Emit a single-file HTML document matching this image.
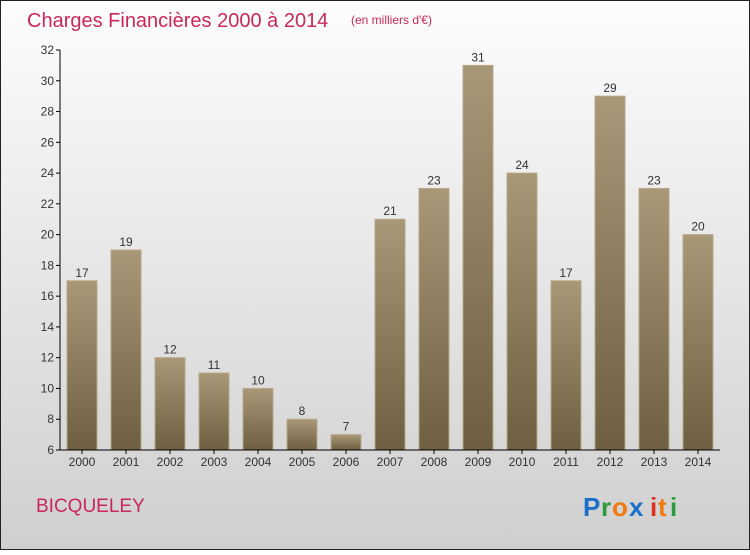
<!DOCTYPE html>
<html><head><meta charset="utf-8"><style>
body{margin:0;width:750px;height:550px;overflow:hidden;font-family:"Liberation Sans",sans-serif}
</style></head><body>
<svg width="750" height="550" xmlns="http://www.w3.org/2000/svg">
<defs>
<linearGradient id="bg" x1="0" y1="0" x2="0" y2="1"><stop offset="0" stop-color="#fdfdfd"/><stop offset="1" stop-color="#cfcfcf"/></linearGradient>
<linearGradient id="bar" x1="0" y1="0" x2="0" y2="1"><stop offset="0" stop-color="#a89878"/><stop offset="1" stop-color="#6f5f42"/></linearGradient>
</defs>
<rect x="0.5" y="0.5" width="749" height="549" fill="url(#bg)" stroke="#222"/>
<text x="27" y="27" font-size="20" fill="#c8285a">Charges Financières 2000 à 2014</text>
<text x="351" y="24" font-size="12" fill="#c8285a">(en milliers d'€)</text>
<g id="plot"></g>
<text x="36" y="512" font-size="19" fill="#c8285a">BICQUELEY</text>
<g font-size="26" font-weight="bold">
<text x="583" y="516" fill="#1a6fc8">P</text><text x="601" y="516" fill="#2a9a3a">r</text><text x="612" y="516" fill="#f07a10">o</text><text x="629" y="516" fill="#1a6fc8">x</text><text x="650" y="516" fill="#e03020">i</text><text x="658" y="516" fill="#f07a10">t</text><text x="670" y="516" fill="#2a9a3a">i</text>
</g>
</svg>
<script>
const categories=["2000","2001","2002","2003","2004","2005","2006","2007","2008","2009","2010","2011","2012","2013","2014"];
const values=[17,19,12,11,10,8,7,21,23,31,24,17,29,23,20];
const yTicks=[6,8,10,12,14,16,18,20,22,24,26,28,30,32];
const NS="http://www.w3.org/2000/svg";
const g=document.getElementById('plot');
const yMin=6,yMax=32,plotTop=50,plotBot=450,x0=60;
const y=v=>plotBot-(v-yMin)/(yMax-yMin)*(plotBot-plotTop);
const xc=i=>82+i*44;
function mk(t,a,txt){const e=document.createElementNS(NS,t);for(const k in a)e.setAttribute(k,a[k]);if(txt!=null)e.textContent=txt;g.appendChild(e);return e;}
yTicks.forEach(t=>{
 const l=mk('line',{x1:x0-4,x2:x0,y1:y(t),y2:y(t),stroke:'#000'});
 
 
 const tx=mk('text',{x:x0-6,y:y(t)+4,'text-anchor':'end','font-size':12,fill:'#333'},t);
 
 
});
values.forEach((v,i)=>{
 const r=mk('rect',{x:xc(i)-15,y:y(v),width:30,height:plotBot-y(v),fill:'url(#bar)',stroke:'#b8a888','stroke-width':1});
 
 
 const lb=mk('text',{x:xc(i),y:y(v)-4,'text-anchor':'middle','font-size':12,fill:'#333'},v);
 
 
 const tk=mk('line',{x1:xc(i),x2:xc(i),y1:plotBot,y2:plotBot+4,stroke:'#000'});
 
 
 const xl=mk('text',{x:xc(i),y:plotBot+16,'text-anchor':'middle','font-size':12,fill:'#333'},categories[i]);
 
 
});
const ya=mk('line',{x1:x0,x2:x0,y1:plotTop,y2:plotBot,stroke:'#000'});


const xa=mk('line',{x1:x0,x2:720,y1:plotBot,y2:plotBot,stroke:'#000'});


</script>
</body></html>
